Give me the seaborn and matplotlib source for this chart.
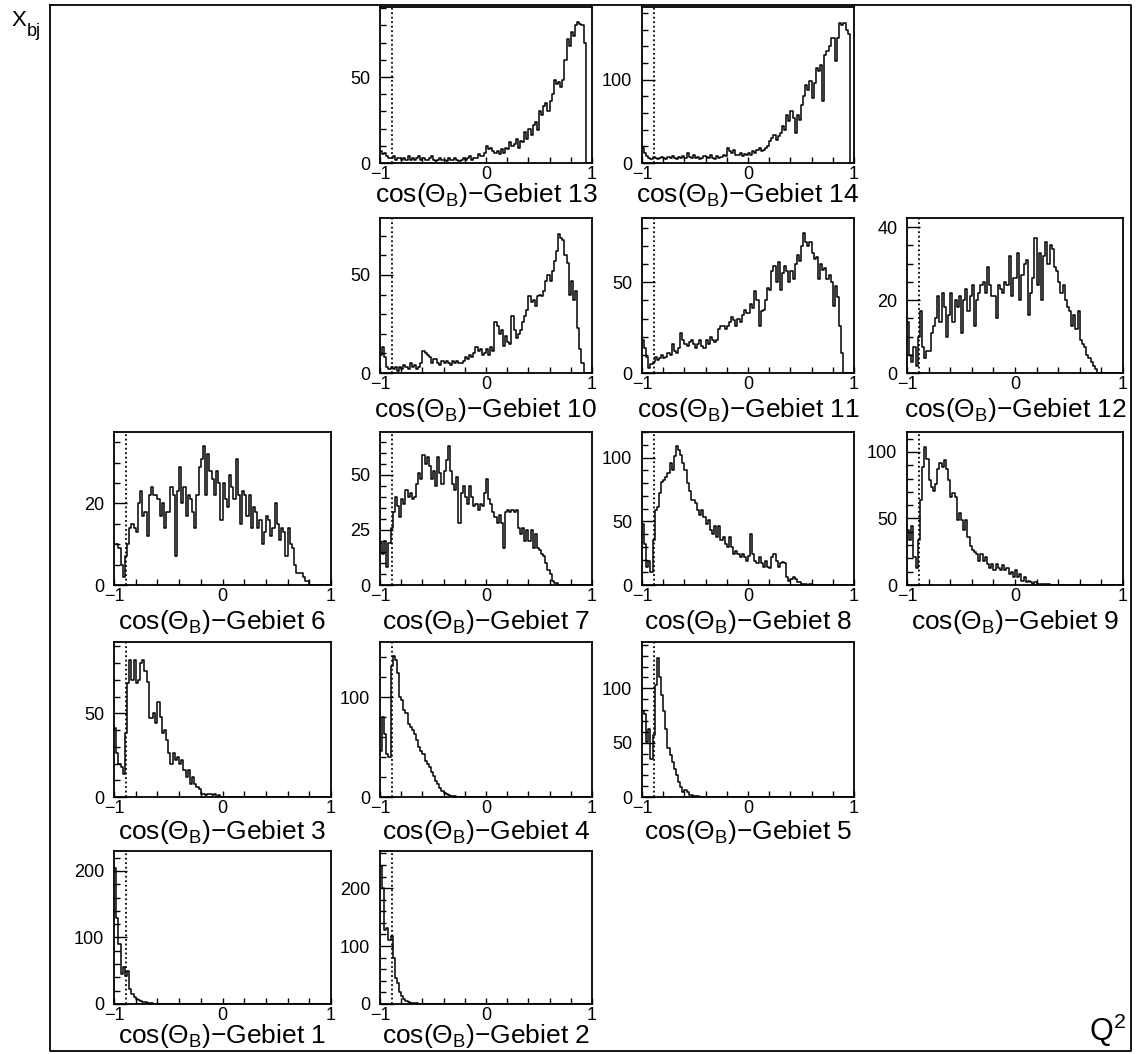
import numpy as np
import pandas as pd
import matplotlib
matplotlib.use("Agg")
import matplotlib.pyplot as plt
import seaborn as sns
from matplotlib.ticker import MultipleLocator, FixedLocator, FuncFormatter
from matplotlib.lines import Line2D

sns.set_theme(style="ticks", rc={"axes.edgecolor": "black", "xtick.color": "black",
                                 "ytick.color": "black", "text.color": "black"})
plt.rcParams['font.family'] = ['Liberation Sans', 'DejaVu Sans']
plt.rcParams['mathtext.fontset'] = 'custom'
plt.rcParams['mathtext.rm'] = 'Liberation Sans'
plt.rcParams['mathtext.default'] = 'regular'

# 100 bins of cos(theta_B) in [-1, 1]
bin_width = 0.02
bin_centers = np.linspace(-1.0 + bin_width / 2, 1.0 - bin_width / 2, 100)
cut_position = -0.89

def counts(values):
    """Bins after the last listed value are empty."""
    return np.array(values + [0] * (100 - len(values)), dtype=float)

gebiet_1 = counts([205, 130, 90, 45, 56, 42, 50, 22, 15, 10,
                   8, 6, 4, 3, 3, 2, 1, 1])
gebiet_2 = counts([238, 200, 128, 132, 110, 118, 80, 45, 37, 20,
                   14, 8, 5, 3, 2, 2, 1, 1])
gebiet_3 = counts([41, 26, 20, 18, 14, 38, 68, 82, 70, 82,
                   68, 70, 80, 82, 75, 69, 47, 47, 50, 44,
                   57, 48, 38, 40, 34, 26, 20, 26, 22, 24,
                   20, 22, 16, 12, 16, 8, 12, 8, 6, 5,
                   2, 2, 1, 2, 2, 1, 2, 0, 1])
gebiet_4 = counts([46, 80, 63, 43, 40, 131, 141, 137, 124, 100,
                   97, 87, 84, 73, 70, 67, 63, 57, 50, 46,
                   43, 36, 33, 30, 25, 21, 16, 13, 9, 6,
                   4, 3, 2, 1, 1, 1])
gebiet_5 = counts([79, 76, 51, 63, 35, 57, 103, 128, 110, 94,
                   79, 63, 45, 39, 32, 26, 20, 14, 9, 5,
                   6, 5, 2, 2, 1, 1, 1])
gebiet_6 = counts([10, 10, 9, 5, 2, 7, 10, 14, 15, 14,
                   13, 20, 23, 17, 18, 12, 22, 24, 22, 22,
                   21, 17, 20, 14, 18, 18, 24, 22, 7, 23,
                   29, 20, 24, 17, 22, 21, 18, 14, 22, 29,
                   31, 34, 22, 32, 28, 26, 22, 28, 25, 16,
                   25, 21, 19, 27, 24, 21, 31, 22, 15, 23,
                   22, 17, 22, 14, 19, 18, 14, 16, 10, 13,
                   17, 16, 12, 14, 20, 15, 11, 14, 13, 7,
                   14, 10, 9, 5, 3, 3, 3, 2, 1, 1])
gebiet_7 = counts([19, 14, 20, 8, 19, 26, 33, 40, 36, 31,
                   39, 37, 43, 40, 42, 39, 40, 46, 51, 48,
                   59, 55, 58, 54, 48, 52, 45, 58, 51, 46,
                   52, 57, 63, 52, 46, 43, 49, 28, 42, 45,
                   40, 37, 45, 40, 36, 37, 34, 37, 36, 42,
                   48, 39, 37, 33, 31, 28, 32, 28, 17, 33,
                   34, 33, 34, 33, 34, 26, 23, 26, 20, 25,
                   20, 25, 17, 23, 17, 16, 14, 13, 10, 7,
                   5, 2, 1, 1])
gebiet_8 = counts([48, 32, 14, 19, 10, 35, 59, 61, 72, 81,
                   82, 85, 88, 96, 90, 101, 109, 106, 102, 96,
                   90, 80, 74, 67, 67, 64, 59, 55, 59, 53,
                   48, 51, 43, 40, 46, 38, 46, 35, 38, 32,
                   30, 38, 30, 24, 27, 24, 22, 24, 22, 19,
                   23, 40, 24, 19, 17, 22, 17, 14, 19, 14,
                   13, 22, 24, 19, 14, 17, 18, 17, 6, 3,
                   5, 6, 5, 2, 2, 1, 1, 1, 0, 1])
gebiet_9 = counts([41, 34, 44, 21, 13, 34, 64, 89, 104, 95,
                   79, 74, 71, 76, 87, 92, 89, 94, 87, 79,
                   66, 69, 66, 49, 54, 49, 41, 49, 36, 29,
                   26, 25, 23, 18, 23, 18, 21, 16, 13, 16,
                   11, 16, 13, 11, 15, 11, 13, 8, 10, 6,
                   11, 6, 8, 3, 6, 2, 3, 2, 1, 2,
                   1, 1, 1, 1, 1, 1])
gebiet_10 = counts([9, 13, 8, 3, 2, 3, 2, 3, 1, 3,
                    2, 4, 3, 2, 5, 3, 4, 2, 3, 5,
                    11, 10, 9, 8, 5, 7, 7, 5, 4, 6,
                    5, 6, 5, 4, 6, 5, 6, 5, 5, 6,
                    8, 7, 9, 8, 10, 13, 11, 12, 9, 10,
                    12, 9, 13, 11, 26, 24, 20, 22, 14, 19,
                    16, 15, 29, 22, 18, 20, 22, 26, 29, 32,
                    39, 36, 37, 34, 39, 40, 39, 42, 47, 50,
                    47, 52, 57, 62, 71, 69, 68, 60, 56, 40,
                    47, 37, 42, 23, 12, 5])
gebiet_11 = counts([18, 14, 9, 3, 5, 6, 9, 7, 8, 10,
                    8, 9, 11, 10, 16, 12, 11, 14, 22, 18,
                    16, 15, 17, 18, 16, 14, 16, 18, 15, 14,
                    18, 16, 20, 18, 17, 18, 24, 26, 26, 24,
                    26, 28, 31, 29, 26, 30, 28, 32, 35, 33,
                    33, 38, 36, 45, 40, 26, 34, 35, 40, 47,
                    46, 56, 59, 50, 61, 46, 55, 59, 56, 50,
                    56, 52, 60, 65, 62, 70, 77, 72, 70, 72,
                    66, 63, 64, 52, 60, 57, 58, 52, 54, 50,
                    37, 48, 42, 26, 11])
gebiet_12 = counts([14, 5, 3, 7, 2, 10, 17, 7, 4, 6,
                    6, 11, 13, 15, 21, 14, 22, 18, 10, 16,
                    22, 14, 20, 18, 21, 11, 20, 23, 17, 21,
                    24, 13, 20, 22, 24, 25, 22, 29, 24, 21,
                    21, 15, 24, 23, 22, 25, 24, 32, 21, 26,
                    26, 33, 20, 27, 30, 31, 16, 22, 26, 37,
                    24, 33, 20, 32, 36, 30, 35, 34, 29, 28,
                    25, 22, 24, 20, 18, 17, 13, 16, 12, 17,
                    9, 8, 7, 5, 4, 3, 2, 1])
gebiet_13 = counts([7, 5, 6, 4, 3, 3, 4, 2, 3, 3,
                    2, 3, 2, 4, 2, 3, 2, 3, 4, 2,
                    3, 2, 2, 3, 4, 2, 1, 2, 3, 2,
                    2, 1, 3, 2, 2, 3, 2, 1, 2, 3,
                    2, 3, 4, 2, 3, 3, 5, 4, 4, 6,
                    10, 8, 9, 7, 6, 7, 5, 8, 6, 9,
                    8, 12, 10, 11, 14, 9, 13, 12, 18, 14,
                    20, 16, 22, 24, 19, 30, 28, 33, 35, 30,
                    36, 40, 48, 46, 47, 44, 48, 60, 72, 68,
                    76, 74, 80, 82, 81, 80, 70])
gebiet_14 = counts([18, 12, 8, 6, 5, 7, 6, 5, 6, 7,
                    6, 5, 7, 6, 8, 6, 5, 7, 6, 8,
                    6, 12, 7, 6, 9, 6, 7, 5, 6, 8,
                    7, 6, 10, 6, 5, 8, 6, 7, 9, 8,
                    18, 14, 12, 16, 10, 9, 12, 8, 11, 10,
                    12, 10, 14, 12, 15, 18, 14, 16, 18, 20,
                    26, 30, 34, 28, 32, 36, 44, 40, 58, 50,
                    62, 54, 36, 58, 52, 70, 80, 94, 88, 98,
                    78, 96, 114, 110, 118, 74, 130, 134, 140, 150,
                    150, 122, 150, 168, 166, 168, 160, 155])

# region number -> (column, row, y upper limit, labelled step, minor step)
layout = {
    13: (1, 0, 90.7, 50, 10), 14: (2, 0, 187, 100, 20),
    10: (1, 1, 79, 50, 10), 11: (2, 1, 85.5, 50, 10), 12: (3, 1, 42.5, 20, 5),
    6: (0, 2, 37.5, 20, 5), 7: (1, 2, 69.5, 25, 5), 8: (2, 2, 120, 50, 10), 9: (3, 2, 115, 50, 10),
    3: (0, 3, 92.6, 50, 10), 4: (1, 3, 155, 100, 20), 5: (2, 3, 142.6, 50, 10),
    1: (0, 4, 230, 100, 20), 2: (1, 4, 264, 100, 20),
}
region_counts = {1: gebiet_1, 2: gebiet_2, 3: gebiet_3, 4: gebiet_4, 5: gebiet_5,
                 6: gebiet_6, 7: gebiet_7, 8: gebiet_8, 9: gebiet_9, 10: gebiet_10,
                 11: gebiet_11, 12: gebiet_12, 13: gebiet_13, 14: gebiet_14}

W, H = 1137, 1054
fig = plt.figure(figsize=(W / 100, H / 100), dpi=100)
fig.patch.set_facecolor("white")

col_left = [114, 380, 642, 907]
col_right = [331, 592, 854, 1123]
row_top = [7, 218, 432, 642, 851]
row_bottom = [163, 373, 585, 797, 1004]
title_offset = [32, 37, 37, 35, 32]

def px(x, y):
    return x / W, 1 - y / H

# outer frame of the whole x-Q^2 plane
fx0, fx1, fy0, fy1 = 50, 1131, 5, 1051
frame_x = [fx0, fx1, fx1, fx0, fx0]
frame_y = [fy0, fy0, fy1, fy1, fy0]
fig.add_artist(Line2D([x / W for x in frame_x], [1 - y / H for y in frame_y],
                      transform=fig.transFigure, color="black", lw=1.3))
fig.text(*px(11, 21), "X", fontsize=16, ha="left", va="center")
fig.text(*px(27, 31), "bj", fontsize=13, ha="left", va="center")
fig.text(*px(1126, 1030), r"Q$^2$", fontsize=22, ha="right", va="center")

for region, (c, r, ymax, major, minor) in layout.items():
    l, rr, t, b = col_left[c], col_right[c], row_top[r], row_bottom[r]
    ax = fig.add_axes([l / W, 1 - b / H, (rr - l) / W, (b - t) / H])
    hist_df = pd.DataFrame({"cos_theta_b": bin_centers, "events": region_counts[region]})
    sns.histplot(data=hist_df, x="cos_theta_b", weights="events",
                 binwidth=bin_width, binrange=(-1.0, 1.0),
                 element="step", fill=False, color="black", linewidth=1.1, ax=ax)
    ax.axvline(cut_position, color="black", lw=1.3, ls=(0, (1.0, 1.5)))
    ax.set_xlim(-1, 1)
    ax.set_ylim(0, ymax)
    ax.set_xlabel("")
    ax.set_ylabel("")
    for s in ax.spines.values():
        s.set_visible(True)
        s.set_linewidth(1.3)
        s.set_color("black")
    ax.xaxis.set_major_locator(FixedLocator([-1, 0, 1]))
    ax.set_xticklabels(["\u22121", "0", "1"])
    ax.xaxis.set_minor_locator(MultipleLocator(0.2))
    ax.yaxis.set_major_locator(MultipleLocator(major))
    ax.yaxis.set_minor_locator(MultipleLocator(minor))
    ax.yaxis.set_major_formatter(FuncFormatter(lambda v, p: f"{v:g}"))
    ax.tick_params(axis="x", which="both", direction="in", length=4, width=1.0,
                   labelsize=13, pad=2, top=False)
    ax.tick_params(axis="y", which="major", direction="in", length=9, width=1.0,
                   labelsize=13, pad=7, right=False)
    ax.tick_params(axis="y", which="minor", direction="in", length=4, width=1.0,
                   right=False)
    cx = 0.5 * (l + rr)
    fig.text(*px(cx, b + title_offset[r]), f"cos(\u0398$_B$)\u2212Gebiet {region}",
             fontsize=19, ha="center", va="center")

fig.savefig("out.png", dpi=100, facecolor="white")
